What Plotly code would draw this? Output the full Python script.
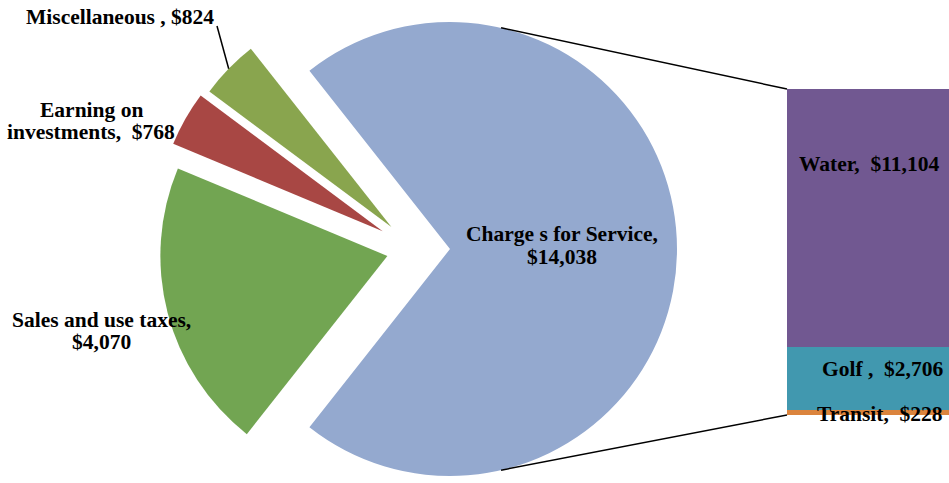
import math
import plotly.graph_objects as go

W, H = 949, 483

# Revenue sources
sources = ["Charge s for Service", "Sales and use taxes", "Earning on investments", "Miscellaneous "]
source_values = [14038, 4070, 768, 824]
source_colors = ["#94A9CF", "#72A552", "#A84744", "#89A54E"]

# Breakdown of the charges for service
services = ["Water", "Golf ", "Transit"]
service_values = [11104, 2706, 228]
service_colors = ["#715891", "#4198AF", "#DB843D"]

NBSP = "\u00a0"


def money(v):
    return f"${v:,}"


# ---- pie geometry (pixels) ----
R = 227                       # pie radius
CENTER = (414, 249)           # centre of the un-exploded pie
explode = [36, 27.5, 36, 31.5]  # how far each slice is pulled out along its bisector

total = sum(source_values)
rotation = 90 - 180 * source_values[0] / total   # centre the big slice on 3 o'clock
mids = []
a = rotation
for v in source_values:
    span = 360 * v / total
    mids.append(a + span / 2)
    a += span

centers = []
for d, m in zip(explode, mids):
    t = math.radians(m)
    centers.append((CENTER[0] + d * math.sin(t), CENTER[1] - d * math.cos(t)))


def clamp(v):
    return min(1.0, max(0.0, v))


fig = go.Figure()

# one pie per slice so every slice can sit at its own exploded position
for i, (cx, cy) in enumerate(centers):
    colors = ["rgba(0,0,0,0)"] * len(source_values)
    colors[i] = source_colors[i]
    fig.add_trace(go.Pie(
        labels=sources,
        values=source_values,
        sort=False,
        direction="clockwise",
        rotation=rotation,
        domain=dict(x=[clamp((cx - R) / W), clamp((cx + R) / W)],
                    y=[clamp(1 - (cy + R) / H), clamp(1 - (cy - R) / H)]),
        marker=dict(colors=colors, line=dict(width=0)),
        textinfo="none",
        hoverinfo="label+value",
        showlegend=False,
    ))

# ---- stacked bar for the charges for service ----
BAR_LEFT, BAR_TOP, BAR_BOTTOM = 787, 89, 415
bar_dom_y = [1 - BAR_BOTTOM / H, 1 - BAR_TOP / H]
for name, v, c in reversed(list(zip(services, service_values, service_colors))):
    fig.add_trace(go.Bar(
        x=[0], y=[v], name=name, width=1,
        marker=dict(color=c, line=dict(width=0)),
        hovertemplate=f"{name}: {money(v)}<extra></extra>",
        showlegend=False,
    ))

fig.update_layout(
    width=W, height=H,
    margin=dict(l=0, r=0, t=0, b=0),
    paper_bgcolor="white", plot_bgcolor="white",
    barmode="stack", bargap=0,
    xaxis=dict(domain=[BAR_LEFT / W, 1], range=[-0.5, 0.5], visible=False, fixedrange=True),
    yaxis=dict(domain=bar_dom_y, range=[0, sum(service_values)], visible=False, fixedrange=True),
)

# ---- connector lines from the big slice to the bar ----
ccx, ccy = centers[0]


def on_circle(cx, cy, ang):
    t = math.radians(ang)
    return cx + R * math.sin(t), cy - R * math.cos(t)


tx, ty = on_circle(ccx, ccy, 13)
bx, by = on_circle(ccx, ccy, 167)
line_style = dict(color="black", width=1.5)
fig.add_shape(type="line", xref="paper", yref="paper",
              x0=tx / W, y0=1 - ty / H, x1=BAR_LEFT / W, y1=bar_dom_y[1], line=line_style)
fig.add_shape(type="line", xref="paper", yref="paper",
              x0=bx / W, y0=1 - by / H, x1=BAR_LEFT / W, y1=bar_dom_y[0], line=line_style)

# leader line for the small "Miscellaneous" slice
mx, my = on_circle(centers[3][0], centers[3][1], mids[3])
fig.add_shape(type="line", xref="paper", yref="paper",
              x0=217 / W, y0=1 - 26 / H, x1=mx / W, y1=1 - my / H,
              line=dict(color="black", width=1.5))

# ---- labels ----
FONT = dict(family="Liberation Serif, Times New Roman, serif", size=21.5, color="black")


def label(text, x, y, xanchor="center"):
    fig.add_annotation(text=f"<b>{text}</b>", x=x / W, y=1 - y / H, xref="paper", yref="paper",
                       xanchor=xanchor, yanchor="middle", showarrow=False, font=FONT)


label("Charge s for Service,", 562, 234)
label(money(source_values[0]), 562, 257)
label("Sales and use taxes,", 101, 320)
label(money(source_values[1]), 101, 342)
label("Earning on", 91, 110)
label(f"investments,{NBSP} {money(source_values[2])}", 91, 132)
label(f"Miscellaneous , {money(source_values[3])}", 120, 17)

label(f"{services[0]},{NBSP} {money(service_values[0])}", 941, 164, "right")
label(f"{services[1]},{NBSP} {money(service_values[1])}", 945, 369, "right")
label(f"{services[2]},{NBSP} {money(service_values[2])}", 945, 414, "right")

fig.write_html("out.html")
